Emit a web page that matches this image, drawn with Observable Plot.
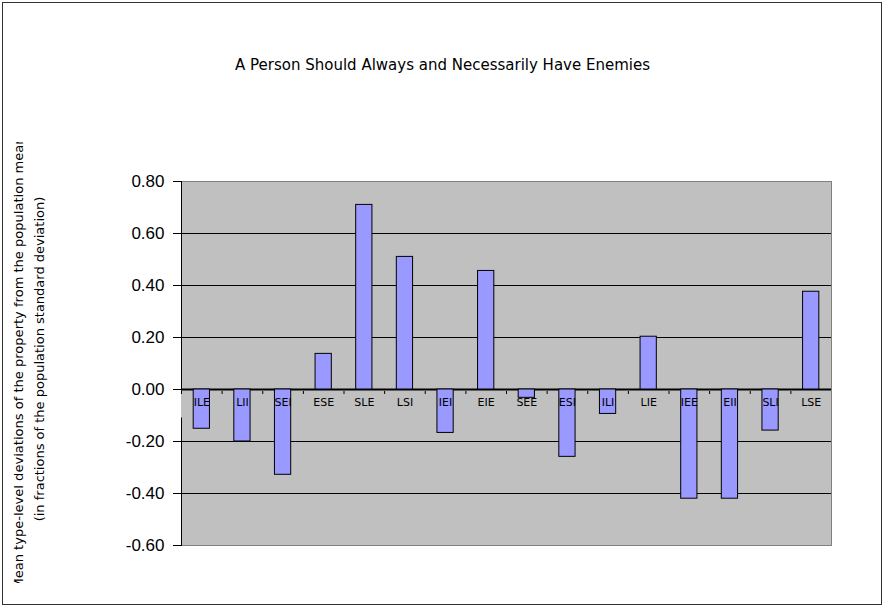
<!DOCTYPE html>
<html>
<head>
<meta charset="utf-8">
<script src="https://cdn.jsdelivr.net/npm/d3@7"></script>
<script src="https://cdn.jsdelivr.net/npm/@observablehq/plot@0.6"></script>
<style>
  html, body { margin: 0; padding: 0; background: white; }
  #wrap { position: relative; width: 884px; height: 607px; overflow: hidden; }
  #border { position: absolute; left: 2px; top: 2px; width: 878px; height: 601px; border: 1.5px solid #333; pointer-events: none; }
</style>
</head>
<body>
<div id="wrap"><div id="border"></div></div>
<script>
const title = "A Person Should Always and Necessarily Have Enemies";
const yTitleLine1 = "Mean type-level deviations of the property from the population mean";
const yTitleLine2 = "(in fractions of the population standard deviation)";
const types = ["ILE","LII","SEI","ESE","SLE","LSI","IEI","EIE","SEE","ESI","ILI","LIE","IEE","EII","SLI","LSE"];
const values = [-0.151,-0.200,-0.328,0.137,0.710,0.510,-0.167,0.456,-0.032,-0.259,-0.094,0.203,-0.420,-0.420,-0.158,0.376];
const yTicks = [-0.6,-0.4,-0.2,0,0.2,0.4,0.6,0.8];
const gridTicks = [-0.4,-0.2,0.2,0.4,0.6];

const data = types.map((t, i) => ({type: t, value: values[i]}));

const W = 884, H = 607, ML = 181, MR = 53, MT = 181, MB = 62;
const step = (W - ML - MR) / types.length;

const chart = Plot.plot({
  width: W, height: H,
  marginLeft: ML, marginRight: MR, marginTop: MT, marginBottom: MB,
  style: {fontFamily: "DejaVu Sans", fontSize: "11px", background: "transparent", color: "black", overflow: "visible"},
  x: {domain: types, paddingInner: 0.6, paddingOuter: 0.3, round: false, axis: null},
  y: {domain: [-0.6, 0.8], axis: null},
  marks: [
    Plot.frame({fill: "#c0c0c0", stroke: "#808080"}),
    Plot.ruleY(gridTicks, {stroke: "black", strokeWidth: 1}),
    Plot.frame({anchor: "left", stroke: "black"}),
    Plot.ruleY([0], {stroke: "#c0c0c0", strokeWidth: 27, dy: 14.5}),
    Plot.ruleY([0], {stroke: "black", strokeWidth: 3, dy: 3, strokeDasharray: `1 ${step - 1}`}),
    Plot.ruleY([0], {stroke: "black", strokeWidth: 2}),
    Plot.barY(data, {x: "type", y: "value", fill: "#9999ff", stroke: "black", strokeWidth: 1}),
    Plot.axisY({ticks: yTicks, tickFormat: d => d.toFixed(2), tickSize: 8, tickPadding: 9, fontSize: 17, fontFamily: "Liberation Sans", label: null, stroke: "black"}),
    Plot.axisX({anchor: "bottom", dy: -156, tickSize: 0, tickPadding: 9, fontSize: 11, fontFamily: "DejaVu Sans", label: null}),
    Plot.text([title], {frameAnchor: "top", dy: -122, dx: -64, fontSize: 15, fontFamily: "DejaVu Sans", fill: "black"}),
    Plot.text([yTitleLine1], {frameAnchor: "left", textAnchor: "middle", rotate: -90, dx: -163, dy: -0.5, fontSize: 13.05, fontFamily: "DejaVu Sans", fill: "black"}),
    Plot.text([yTitleLine2], {frameAnchor: "left", textAnchor: "middle", rotate: -90, dx: -142, dy: -4.5, fontSize: 13, fontFamily: "DejaVu Sans", fill: "black"})
  ]
});

const svg = d3.select(chart);
svg.append("defs").append("clipPath").attr("id", "ytclip").attr("clipPathUnits", "userSpaceOnUse")
  .append("rect").attr("x", 0).attr("y", 142).attr("width", 120).attr("height", 441);
const clipG = svg.append("g").attr("clip-path", "url(#ytclip)");
const groups = new Set();
svg.selectAll("text").each(function() {
  if (this.textContent === yTitleLine1 || this.textContent === yTitleLine2) {
    let g = this;
    while (g.parentNode && g.parentNode !== chart) g = g.parentNode;
    groups.add(g);
  }
});
groups.forEach(g => clipG.node().appendChild(g));

document.getElementById("wrap").prepend(chart);
</script>
</body>
</html>
